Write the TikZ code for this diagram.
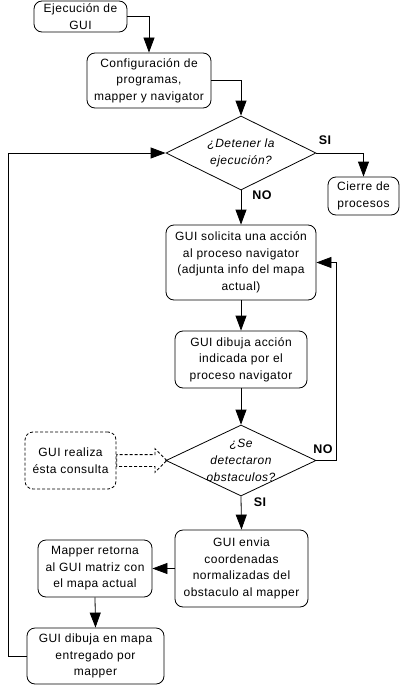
\documentclass[tikz,border=0pt]{standalone}
\usepackage{fontspec}
\setmainfont{Liberation Sans}[LetterSpace=4]
\usepackage{tikz}
\usetikzlibrary{shapes.geometric,shapes.arrows,arrows.meta}

\begin{document}
\begin{tikzpicture}[x=1pt,y=-1pt,
    caja/.style={draw,rounded corners=8pt,align=center,inner sep=0pt,line width=0.8pt,font=\fontsize{12}{16.5}\selectfont},
    pregunta/.style={draw,diamond,inner sep=0pt,line width=0.8pt},
    texto/.style={align=center,font=\fontsize{12}{17}\selectfont\itshape},
    flecha/.style={line width=0.8pt,-{Triangle[length=15pt,width=11pt]}},
    etiqueta/.style={font=\fontsize{12.5}{14}\selectfont\bfseries}]
    \useasboundingbox (0,0) rectangle (403,685);
    \node[caja,minimum width=93,minimum height=31] (inicio) at (80.5,16.5) {Ejecución de\\GUI};
    \node[caja,minimum width=124,minimum height=55] (config) at (149,80.5) {Configuración de\\programas,\\mapper y navigator};
    \node[pregunta,minimum width=150,minimum height=74,label={[texto]center:{¿Detener la\\ejecución?}}] (detener) at (241,153) {};
    \node[caja,minimum width=71,minimum height=38] (cierre) at (363.5,196) {Cierre de\\procesos};
    \node[caja,minimum width=150,minimum height=75] (solicita) at (241,262.5) {GUI solicita una acción\\al proceso navigator\\(adjunta info del mapa\\actual)};
    \node[caja,minimum width=132,minimum height=57] (dibuja) at (241,359.5) {GUI dibuja acción\\indicada por el\\proceso navigator};
    \node[pregunta,minimum width=150,minimum height=71,label={[texto]center:{¿Se\\detectaron\\obstaculos?}}] (detecta) at (241,460.5) {};
    \node[caja,dashed,dash pattern=on 3pt off 2pt,minimum width=91,minimum height=57] (consulta) at (70.5,460.5) {GUI realiza\\ésta consulta};
    \node[caja,minimum width=133,minimum height=77] (envia) at (241.5,568.5) {GUI envia\\coordenadas\\normalizadas del\\obstaculo al mapper};
    \node[caja,minimum width=114,minimum height=57] (retorna) at (95,568.5) {Mapper retorna\\al GUI matriz con\\el mapa actual};
    \node[caja,minimum width=137,minimum height=56] (mapa) at (95.5,656) {GUI dibuja en mapa\\entregado por\\mapper};
    \node[draw,dashed,dash pattern=on 3pt off 2pt,single arrow,single arrow head extend=6pt,minimum height=50,inner xsep=0pt,inner ysep=5.5pt,anchor=tail,line width=0.8pt] (pista) at (consulta.east) {};
    \node[etiqueta] (si1) at (325,140) {SI};
    \node[etiqueta] (no1) at (262,195) {NO};
    \node[etiqueta] (no2) at (323,449) {NO};
    \node[etiqueta] (si2) at (260,502) {SI};
    \draw[flecha] (inicio.east) -| (config.north);
    \draw[flecha] (config.east) -| (detener.north);
    \draw[flecha] (detener.east) -| (cierre.north);
    \draw[flecha] (detener.south) -- (solicita.north);
    \draw[flecha] (solicita.south) -- (dibuja.north);
    \draw[flecha] (dibuja.south) -- (detecta.north);
    \draw[flecha] (detecta.east) -- ++(20,0) |- (solicita.east);
    \draw[flecha] (detecta.south) -- (envia.north);
    \draw[flecha] (envia.west) -- (retorna.east);
    \draw[flecha] (retorna.south) -- (mapa.north);
    \draw[flecha] (mapa.west) -- ++(-18,0) |- (detener.west);
\end{tikzpicture}
\end{document}
